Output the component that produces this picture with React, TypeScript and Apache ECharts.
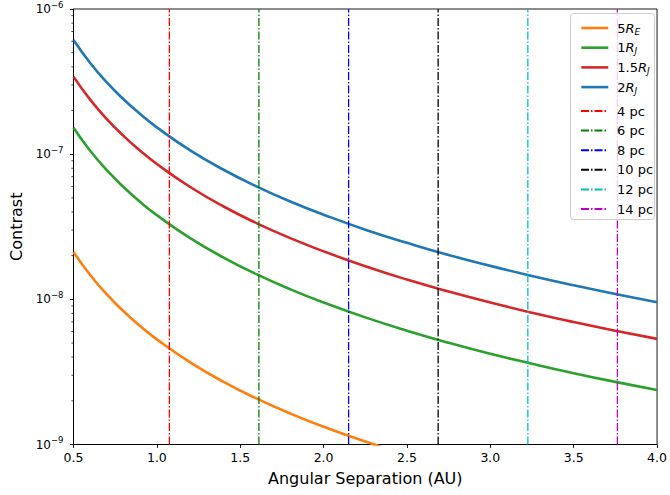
import React, { useEffect, useRef } from 'react';
import * as echarts from 'echarts';

// Angular separation (AU)
const separations = [0.5, 0.6, 0.7, 0.8, 0.9, 1.0, 1.2, 1.4, 1.6, 1.8, 2.0, 2.25, 2.5, 2.75, 3.0, 3.25, 3.5, 3.75, 4.0];

// Contrast values
const contrast5RE = [2.12e-8, 1.472e-8, 1.082e-8, 8.28e-9, 6.54e-9, 5.3e-9, 3.68e-9, 2.7e-9, 2.07e-9, 1.636e-9, 1.325e-9, 1.047e-9, 8.48e-10];
const contrast1RJ = [1.52e-7, 1.056e-7, 7.76e-8, 5.94e-8, 4.69e-8, 3.8e-8, 2.64e-8, 1.94e-8, 1.484e-8, 1.173e-8, 9.5e-9, 7.51e-9, 6.08e-9, 5.02e-9, 4.22e-9, 3.6e-9, 3.1e-9, 2.7e-9, 2.375e-9];
const contrast15RJ = [3.42e-7, 2.375e-7, 1.745e-7, 1.336e-7, 1.056e-7, 8.55e-8, 5.94e-8, 4.36e-8, 3.34e-8, 2.64e-8, 2.14e-8, 1.69e-8, 1.368e-8, 1.131e-8, 9.5e-9, 8.09e-9, 6.98e-9, 6.08e-9, 5.34e-9];
const contrast2RJ = [6.12e-7, 4.25e-7, 3.12e-7, 2.39e-7, 1.889e-7, 1.53e-7, 1.0625e-7, 7.81e-8, 5.98e-8, 4.72e-8, 3.83e-8, 3.02e-8, 2.45e-8, 2.02e-8, 1.7e-8, 1.449e-8, 1.249e-8, 1.088e-8, 9.56e-9];

const radiusNames = ['5R_E', '1R_J', '1.5R_J', '2R_J'];
const radiusLabels: Record<string, string> = {
  '5R_E': '5{i|R}{sub|E}',
  '1R_J': '1{i|R}{sub|J}',
  '1.5R_J': '1.5{i|R}{sub|J}',
  '2R_J': '2{i|R}{sub|J}',
};
const radiusColors = ['#ff7f0e', '#2ca02c', '#d62728', '#1f77b4'];
const radiusData = [contrast5RE, contrast1RJ, contrast15RJ, contrast2RJ];

// Distance markers (pc) and their separations (AU)
const pcNames = ['4 pc', '6 pc', '8 pc', '10 pc', '12 pc', '14 pc'];
const pcSeparations = [1.075, 1.612, 2.15, 2.687, 3.225, 3.762];
const pcColors = ['#ff0000', '#008000', '#0000ff', '#000000', '#00bfbf', '#bf00bf'];

// Axis
const yMin = 1e-9;
const yMax = 1e-6;
const xMin = 0.5;
const xMax = 4.0;
const xStep = 0.5;
const yMinorTicks = [
  2e-9, 3e-9, 4e-9, 5e-9, 6e-9, 7e-9, 8e-9, 9e-9,
  2e-8, 3e-8, 4e-8, 5e-8, 6e-8, 7e-8, 8e-8, 9e-8,
  2e-7, 3e-7, 4e-7, 5e-7, 6e-7, 7e-7, 8e-7, 9e-7,
];

const FONT = 'DejaVu Sans';

export default function App() {
  const ref = useRef<HTMLDivElement>(null);

  useEffect(() => {
    if (!ref.current) return;
    const chart = echarts.init(ref.current, undefined, { renderer: 'svg' });

    const curveSeries = radiusNames.map((name, i) => ({
      name,
      type: 'line',
      data: radiusData[i].map((v, j) => [separations[j], v]),
      smooth: true,
      showSymbol: false,
      symbol: 'none',
      clip: true,
      lineStyle: { color: radiusColors[i], width: 2.6 },
      itemStyle: { color: radiusColors[i] },
      z: 3,
      silent: true,
    }));

    const pcSeries = pcNames.map((name, i) => ({
      name,
      type: 'line',
      data: [
        [pcSeparations[i], yMin],
        [pcSeparations[i], yMax],
      ],
      showSymbol: false,
      symbol: 'none',
      lineStyle: { color: pcColors[i], width: 1.3, type: [8, 2, 1.5, 2] },
      itemStyle: { color: pcColors[i] },
      z: 4,
      silent: true,
    }));

    const minorTickSeries = {
      type: 'custom',
      silent: true,
      clip: false,
      data: yMinorTicks.map((v) => [xMin, v]),
      renderItem: (_params: any, api: any) => {
        const p = api.coord([api.value(0), api.value(1)]);
        return {
          type: 'line',
          shape: { x1: p[0] - 2.2, y1: p[1], x2: p[0], y2: p[1] },
          style: { stroke: '#000', lineWidth: 0.7 },
        };
      },
      z: 5,
    };

    const legendText = {
      fontFamily: FONT,
      fontSize: 13,
      color: '#000',
      lineHeight: 14,
      padding: [0, 0, 0, 4],
      rich: {
        i: { fontFamily: FONT, fontSize: 13, fontStyle: 'italic', color: '#000', lineHeight: 14 },
        sub: { fontFamily: FONT, fontSize: 9, fontStyle: 'italic', color: '#000', padding: [7, 0, 0, 0] },
      },
    };

    const legendCommon = {
      orient: 'vertical',
      left: 575,
      itemWidth: 27,
      itemHeight: 14,
      selectedMode: false,
      itemStyle: { opacity: 0, borderWidth: 0 },
      textStyle: legendText,
      z: 20,
    };

    chart.setOption({
      animation: false,
      textStyle: { fontFamily: FONT },
      grid: {
        left: 73.5,
        right: 10,
        top: 7,
        bottom: 50.5,
        show: true,
        borderColor: '#000',
        borderWidth: 0.9,
        backgroundColor: 'transparent',
      },
      xAxis: {
        type: 'value',
        min: xMin,
        max: xMax,
        interval: xStep,
        name: 'Angular Separation (AU)',
        nameLocation: 'middle',
        nameGap: 26,
        nameTextStyle: { fontFamily: FONT, fontSize: 16, color: '#000' },
        axisLine: { show: true, onZero: false, lineStyle: { color: '#000', width: 0.9 } },
        axisTick: { show: true, inside: false, length: 3.5, lineStyle: { color: '#000', width: 0.9 } },
        axisLabel: {
          margin: 6,
          fontFamily: FONT,
          fontSize: 12.5,
          color: '#000',
          formatter: (v: number) => v.toFixed(1),
        },
        splitLine: { show: false },
      },
      yAxis: {
        type: 'log',
        logBase: 10,
        min: yMin,
        max: yMax,
        name: 'Contrast',
        nameLocation: 'middle',
        nameGap: 47,
        nameTextStyle: { fontFamily: FONT, fontSize: 16, color: '#000' },
        axisLine: { show: true, onZero: false, lineStyle: { color: '#000', width: 0.9 } },
        axisTick: { show: true, inside: false, length: 3.5, lineStyle: { color: '#000', width: 0.9 } },
        minorTick: { show: false },
        splitLine: { show: false },
        axisLabel: {
          margin: 10,
          fontFamily: FONT,
          fontSize: 12,
          color: '#000',
          formatter: (v: number) => {
            const e = Math.round(Math.log10(v));
            return '10{sup|\u2212' + Math.abs(e) + '}';
          },
          rich: {
            sup: { fontFamily: FONT, fontSize: 8.5, color: '#000', padding: [0, 0, 9, 0] },
          },
        },
      },
      legend: [
        {
          ...legendCommon,
          data: radiusNames,
          top: 16,
          itemGap: 4.7,
          lineStyle: { width: 2.6 },
          formatter: (name: string) => radiusLabels[name] || name,
        },
        {
          ...legendCommon,
          data: pcNames,
          top: 99,
          itemGap: 5.6,
        },
      ],
      graphic: [
        {
          type: 'rect',
          left: 570,
          top: 13,
          shape: { width: 84, height: 206, r: 3 },
          style: { fill: 'rgba(255,255,255,0.8)', stroke: '#cccccc', lineWidth: 1 },
          z: 15,
          silent: true,
        },
      ],
      series: [...curveSeries, ...pcSeries, minorTickSeries],
    });

    return () => {
      chart.dispose();
    };
  }, []);

  return (
    <div
      ref={ref}
      style={{ position: 'fixed', left: 0, top: 0, width: 670, height: 495, background: '#fff' }}
    />
  );
}
